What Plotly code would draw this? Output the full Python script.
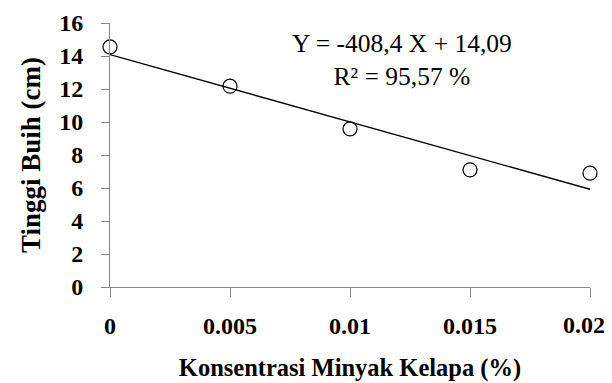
import plotly.graph_objects as go

konsentrasi = [0, 0.005, 0.01, 0.015, 0.02]
tinggi_buih = [14.55, 12.17, 9.58, 7.1, 6.9]
slope = -408.4
intercept = 14.09
x_ticks = [0, 0.005, 0.01, 0.015, 0.02]
x_tick_labels = ["0", "0.005", "0.01", "0.015", "0.02"]
y_ticks = [0, 2, 4, 6, 8, 10, 12, 14, 16]

line_x = [konsentrasi[0], konsentrasi[-1]]
line_y = [slope * v + intercept for v in line_x]

FAM = "'Liberation Serif', 'Times New Roman', Times, serif"

fig = go.Figure()
fig.add_trace(go.Scatter(x=line_x, y=line_y, mode="lines",
                         line=dict(color="black", width=1.3), showlegend=False, hoverinfo="skip"))
fig.add_trace(go.Scatter(x=konsentrasi, y=tinggi_buih, mode="markers",
                         marker=dict(symbol="circle-open", size=14, color="black",
                                     line=dict(width=1.2, color="black")),
                         showlegend=False, cliponaxis=False))

serif_b = dict(family=FAM, size=24, color="black", weight="bold")

# page has an 8px body margin; figure placed at (8, 8)
W, H = 604, 375
L, R, T, B = 102, 22, 15, 96
pw = W - L - R
ph = H - T - B

# last tick label is drawn as an annotation, nudged left so it stays inside the page
shown_ticktext = x_tick_labels[:-1] + [""]

fig.update_layout(
    width=W, height=H,
    margin=dict(l=L, r=R, t=T, b=B),
    paper_bgcolor="white", plot_bgcolor="white",
    xaxis=dict(range=[0, 0.02], tickvals=x_ticks, ticktext=shown_ticktext, automargin=False,
               showgrid=False, zeroline=False, showline=True, linecolor="#888888", linewidth=1,
               ticks="outside", ticklen=9, tickcolor="#888888", tickwidth=1,
               tickfont=serif_b, ticklabelstandoff=8,
               title=dict(text="Konsentrasi Minyak Kelapa (%)", font=dict(family=FAM, size=24.5, color="black", weight="bold"), standoff=21)),
    yaxis=dict(range=[0, 16], tickvals=y_ticks, automargin=False,
               showgrid=False, zeroline=False, showline=True, linecolor="#888888", linewidth=1,
               ticks="outside", ticklen=8, tickcolor="#888888", tickwidth=1,
               tickfont=serif_b, ticklabelstandoff=13,
               title=dict(text="Tinggi Buih (cm)", font=dict(family=FAM, size=27, color="black", weight="bold"), standoff=10)),
    annotations=[
        dict(text="Y = -408,4 X + 14,09<br>R² = 95,57 %", x=(402 - 8 - L) / pw, y=(H - B - (60 - 8)) / ph,
             xref="paper", yref="paper", xanchor="center", yanchor="middle",
             showarrow=False, font=dict(family=FAM, size=25.5, color="black"), align="center"),
        dict(text=x_tick_labels[-1], x=x_ticks[-1], xref="x", y=(H - B - (325 - 8)) / ph, yref="paper",
             xanchor="right", yanchor="middle", xshift=17,
             showarrow=False, font=serif_b),
    ],
)

fig.write_html("out.html")
